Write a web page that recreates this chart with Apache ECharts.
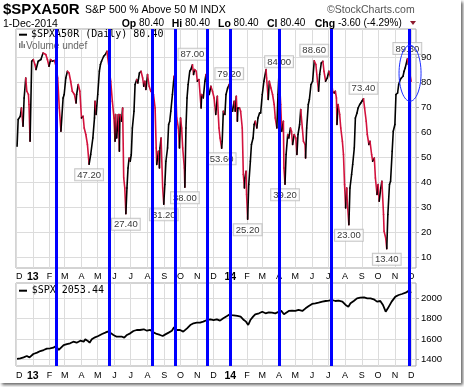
<!DOCTYPE html>
<html><head><meta charset="utf-8">
<script src="https://cdn.jsdelivr.net/npm/echarts@6/dist/echarts.min.js"></script>
<style>html,body{margin:0;padding:0;background:#fff}#c{width:464px;height:387px}</style>
</head><body><div id="c"></div>
<script>
// ---------- DATA ----------
const breadthDates = [
'2012-12-03','2012-12-05','2012-12-09','2012-12-11','2012-12-14','2012-12-16','2012-12-19','2012-12-21','2012-12-24','2012-12-25','2012-12-27','2012-12-30',
'2013-01-02','2013-01-05','2013-01-07','2013-01-11','2013-01-16','2013-01-20','2013-01-25','2013-01-28','2013-01-31',
'2013-02-03','2013-02-06','2013-02-10','2013-02-13','2013-02-16','2013-02-19','2013-02-22','2013-02-26','2013-02-28',
'2013-03-03','2013-03-06','2013-03-09','2013-03-12','2013-03-15','2013-03-19','2013-03-22','2013-03-23','2013-03-26','2013-03-29',
'2013-04-01','2013-04-04','2013-04-06','2013-04-09','2013-04-12','2013-04-15','2013-04-18','2013-04-22','2013-04-25','2013-04-26','2013-04-28',
'2013-05-01','2013-05-04','2013-05-06','2013-05-08','2013-05-12','2013-05-15','2013-05-18','2013-05-22','2013-05-25','2013-05-28','2013-05-31',
'2013-06-02','2013-06-03','2013-06-05','2013-06-08','2013-06-10','2013-06-11','2013-06-14','2013-06-16','2013-06-18','2013-06-20','2013-06-22','2013-06-24','2013-06-26','2013-06-28','2013-06-30',
'2013-07-02','2013-07-04','2013-07-07','2013-07-09','2013-07-12','2013-07-14','2013-07-17','2013-07-20','2013-07-23','2013-07-25','2013-07-27','2013-07-29',
'2013-08-01','2013-08-04','2013-08-07','2013-08-12','2013-08-15','2013-08-17','2013-08-18','2013-08-21','2013-08-23','2013-08-24','2013-08-26','2013-08-29','2013-08-31',
'2013-09-02','2013-09-04','2013-09-07','2013-09-09','2013-09-11','2013-09-13','2013-09-16','2013-09-19','2013-09-22','2013-09-24','2013-09-27','2013-09-29',
'2013-10-01','2013-10-03','2013-10-05','2013-10-08','2013-10-09','2013-10-11','2013-10-13','2013-10-15','2013-10-18','2013-10-20','2013-10-23','2013-10-25','2013-10-27','2013-10-30',
'2013-11-01','2013-11-04','2013-11-08','2013-11-09','2013-11-12','2013-11-15','2013-11-17','2013-11-23','2013-11-26','2013-11-29',
'2013-12-02','2013-12-05','2013-12-08','2013-12-11','2013-12-13','2013-12-16','2013-12-17','2013-12-19','2013-12-22','2013-12-24','2013-12-27','2013-12-30',
'2014-01-02','2014-01-05','2014-01-08','2014-01-10','2014-01-12','2014-01-14','2014-01-15','2014-01-18','2014-01-20','2014-01-23','2014-01-25','2014-01-27','2014-01-28','2014-01-30','2014-01-31',
'2014-02-02','2014-02-04','2014-02-07','2014-02-09','2014-02-12','2014-02-14','2014-02-16','2014-02-19','2014-02-21','2014-02-24','2014-02-26',
'2014-03-01','2014-03-04','2014-03-08','2014-03-09','2014-03-12','2014-03-14','2014-03-17','2014-03-20','2014-03-23','2014-03-25','2014-03-28','2014-03-30',
'2014-04-01','2014-04-04','2014-04-06','2014-04-09','2014-04-10','2014-04-12','2014-04-14','2014-04-17','2014-04-19','2014-04-22','2014-04-24','2014-04-26','2014-04-29',
'2014-05-02','2014-05-04','2014-05-06','2014-05-09','2014-05-11','2014-05-14','2014-05-16','2014-05-19','2014-05-20','2014-05-22','2014-05-25','2014-05-27','2014-05-30',
'2014-06-02','2014-06-05','2014-06-08','2014-06-11','2014-06-13','2014-06-15','2014-06-18','2014-06-21','2014-06-23','2014-06-26','2014-06-29',
'2014-07-02','2014-07-07','2014-07-09','2014-07-12','2014-07-14','2014-07-16','2014-07-17','2014-07-19','2014-07-22','2014-07-24','2014-07-27','2014-07-29','2014-07-31',
'2014-08-02','2014-08-04','2014-08-05','2014-08-08','2014-08-10','2014-08-13','2014-08-15','2014-08-18','2014-08-20','2014-08-23','2014-08-25','2014-08-28','2014-08-30',
'2014-09-01','2014-09-04','2014-09-06','2014-09-09','2014-09-11','2014-09-14','2014-09-16','2014-09-19','2014-09-21','2014-09-24','2014-09-26','2014-09-29',
'2014-10-01','2014-10-03','2014-10-06','2014-10-08','2014-10-11','2014-10-12','2014-10-15','2014-10-17','2014-10-19','2014-10-22','2014-10-24','2014-10-27','2014-10-29',
'2014-11-01','2014-11-03','2014-11-06','2014-11-08','2014-11-11','2014-11-13','2014-11-16','2014-11-18','2014-11-20','2014-11-23','2014-11-24','2014-11-26','2014-11-27','2014-11-28',
'2014-12-01'];
const breadthValues = [
54.4,65.1,66.4,69.7,62.4,73.7,81.7,76.4,75.1,71.1,56.4,88.4,
89.1,87.1,85.1,88.4,89.1,91.7,91.1,89.1,86.4,
89.1,88.4,88.7,86.4,81.7,69.7,60.4,73.7,75.1,
81.7,84.4,83.7,80.4,76.4,75.1,71.7,75.1,79.1,76.4,
65.7,66.4,61.7,59.1,55.1,47.2,51.1,57.7,65.7,72.4,67.1,
75.1,84.4,87.1,88.4,90.4,91.1,92.4,85.7,80.4,72.4,65.7,
56.4,67.1,57.7,67.1,52.4,67.1,64.4,69.7,41.7,37.7,27.4,37.7,45.7,49.7,48.4,
51.1,61.7,68.4,79.1,81.1,79.7,83.7,84.4,81.7,78.4,80.4,77.1,
83.1,78.4,76.4,75.1,69.7,53.7,47.1,52.4,45.7,53.7,57.7,37.7,31.2,
39.1,48.4,53.7,63.1,64.4,68.4,75.1,82.4,77.7,65.7,61.7,53.7,
65.7,61.7,53.7,45.7,38.0,61.7,73.7,79.1,84.4,85.1,87.0,83.1,85.1,84.4,
80.4,81.1,69.7,75.1,73.7,80.4,83.1,75.1,78.4,76.4,
73.7,67.1,74.4,61.7,57.7,53.6,56.4,68.4,67.1,75.1,77.7,79.2,
71.1,68.4,72.4,68.4,74.4,64.4,69.7,69.7,68.4,61.7,43.1,37.7,41.7,44.4,35.1,
25.2,39.1,48.4,55.1,57.7,63.1,64.4,61.7,65.7,67.7,67.7,
75.1,80.4,85.1,81.7,73.1,80.4,77.7,75.1,71.1,65.7,61.7,75.1,
84.0,71.1,60.4,64.4,45.7,39.2,51.1,59.1,57.7,61.7,60.4,55.1,59.1,
57.7,51.1,59.1,63.1,69.1,61.7,56.4,55.1,49.7,61.7,71.1,73.1,79.1,
80.4,88.6,87.1,80.4,76.4,83.1,87.7,88.4,84.4,80.4,81.7,
84.4,80.4,76.4,75.7,76.4,73.7,63.1,71.1,67.1,61.7,56.4,51.1,39.1,
29.7,37.7,32.4,23.0,37.7,43.1,47.1,53.7,65.7,67.7,69.7,71.1,71.7,
72.4,73.4,69.7,64.4,59.1,55.1,56.4,51.1,48.4,49.7,41.7,35.1,
39.1,32.4,37.7,40.4,27.1,20.4,17.7,13.4,27.1,39.1,40.4,52.4,60.4,
63.1,75.1,75.7,79.1,81.1,81.7,82.4,84.4,85.7,88.4,89.3,87.1,88.4,84.0,
80.4];

const spxDates = [
'2012-12-03','2012-12-09','2012-12-15','2012-12-21','2012-12-26','2012-12-29',
'2013-01-02','2013-01-09','2013-01-15','2013-01-21','2013-01-27','2013-02-02','2013-02-08','2013-02-13','2013-02-18','2013-02-21','2013-02-27',
'2013-03-05','2013-03-11','2013-03-17','2013-03-23','2013-03-30','2013-04-05','2013-04-08','2013-04-12','2013-04-16','2013-04-20','2013-04-26',
'2013-05-02','2013-05-09','2013-05-15','2013-05-19','2013-05-24','2013-05-30','2013-06-05','2013-06-08','2013-06-15','2013-06-19','2013-06-24','2013-06-30',
'2013-07-06','2013-07-12','2013-07-18','2013-07-25','2013-07-31','2013-08-06','2013-08-12','2013-08-18','2013-08-24','2013-08-29',
'2013-09-03','2013-09-09','2013-09-15','2013-09-19','2013-09-24','2013-09-30','2013-10-06','2013-10-13','2013-10-19','2013-10-25','2013-10-31',
'2013-11-06','2013-11-12','2013-11-19','2013-11-25','2013-12-01','2013-12-07','2013-12-13','2013-12-19','2013-12-26','2013-12-31',
'2014-01-04','2014-01-14','2014-01-20','2014-01-26','2014-01-30','2014-02-03','2014-02-07','2014-02-12','2014-02-16','2014-02-23',
'2014-03-01','2014-03-07','2014-03-13','2014-03-19','2014-03-25','2014-04-01','2014-04-05','2014-04-10','2014-04-13','2014-04-19','2014-04-25',
'2014-05-01','2014-05-07','2014-05-14','2014-05-20','2014-05-26','2014-06-01','2014-06-07','2014-06-13','2014-06-20','2014-06-26',
'2014-07-02','2014-07-08','2014-07-14','2014-07-20','2014-07-27','2014-08-02','2014-08-07','2014-08-11','2014-08-17','2014-08-23','2014-08-29',
'2014-09-05','2014-09-11','2014-09-17','2014-09-23','2014-09-29','2014-10-05','2014-10-10','2014-10-15','2014-10-19','2014-10-26',
'2014-11-02','2014-11-08','2014-11-14','2014-11-21','2014-11-27','2014-12-01'];
const spxValues = [
1405,1409,1419,1432,1419,1402,
1452,1465,1481,1491,1504,1508,1514,1531,1492,1508,1540,
1550,1557,1573,1563,1583,1573,1596,1583,1563,1596,1616,
1629,1649,1662,1672,1662,1639,1622,1639,1622,1613,1639,1655,
1678,1688,1688,1695,1681,1688,1665,1649,1639,1629,
1645,1662,1681,1714,1688,1688,1672,1704,1737,1754,1760,
1760,1770,1786,1793,1786,1793,1780,1803,1826,1842,
1835,1826,1819,1786,1770,1737,1786,1819,1842,1852,
1868,1852,1862,1858,1852,1868,1878,1842,1858,1875,1878,
1875,1885,1875,1901,1924,1944,1950,1957,1967,1973,
1976,1983,1973,1976,1967,1934,1917,1950,1973,1999,2006,
2009,1999,1999,1990,1967,1973,1934,1868,1901,1967,
2016,2032,2042,2055,2075,2053.44];

// labelled extremes of the breadth line
const annotationDates  = ['2013-04-15','2013-06-22','2013-08-31','2013-10-09','2013-10-23','2013-12-16','2013-12-30','2014-02-02','2014-04-01','2014-04-12','2014-06-05','2014-08-08','2014-09-04','2014-10-17','2014-11-24'];
const annotationValues = [47.2,27.4,31.2,38.0,87.0,53.6,79.2,25.2,84.0,39.2,88.6,23.0,73.4,13.4,89.3];
const annotationSides  = ['below','below','below','below','above','below','above','below','above','below','above','below','above','below','above'];

// blue vertical marker lines
const markerDates = ['2013-02-13','2013-05-22','2013-08-09','2013-09-22','2013-11-20','2013-12-31','2014-04-02','2014-07-06','2014-11-27'];

// x tick labels (month starts)
const monthTickDates = ['2012-12-01','2013-01-01','2013-02-01','2013-03-01','2013-04-01','2013-05-01','2013-06-01','2013-07-01','2013-08-01','2013-09-01','2013-10-01','2013-11-01','2013-12-01',
'2014-01-01','2014-02-01','2014-03-01','2014-04-01','2014-05-01','2014-06-01','2014-07-01','2014-08-01','2014-09-01','2014-10-01','2014-11-01','2014-12-01'];
const monthTickLabels = ['D','13','F','M','A','M','J','J','A','S','O','N','D','14','F','M','A','M','J','J','A','S','O','N','D'];
const breadthTicks = [10,20,30,40,50,60,70,80,90];
const spxTicks = [1400,1600,1800,2000];

// ---------- CHART ----------
const ts = s => { const p = s.split('-').map(Number); return new Date(p[0], p[1]-1, p[2]).getTime(); };
const X_MIN = ts('2012-12-01'), X_MAX = ts('2014-12-10');
const UP = '#000000', DOWN = '#d3123d', GRIDC = '#dcdcdc', FONT = 'Liberation Sans, Arial, sans-serif';

const tickMap = {};
monthTickDates.forEach((d, i) => { tickMap[ts(d)] = monthTickLabels[i]; });
const monthVals = monthTickDates.map(ts);
const xFmt = v => { const l = tickMap[v]; if (l === undefined) return ''; return /\d/.test(l) ? '{y|' + l + '}' : l; };

const segs = [];
for (let i = 1; i < breadthDates.length; i++) {
  const up = breadthValues[i] >= breadthValues[i-1];
  segs.push({ coords: [[ts(breadthDates[i-1]), breadthValues[i-1]], [ts(breadthDates[i]), breadthValues[i]]],
              lineStyle: { color: up ? UP : DOWN } });
}

function xAxisCfg(gi, showLabels, margin) {
  return {
    type: 'value', gridIndex: gi, min: X_MIN, max: X_MAX, scale: true,
    axisLine: { show: false },
    axisTick: { show: false, customValues: monthVals },
    axisLabel: { show: showLabels, customValues: monthVals, formatter: xFmt, margin: margin, fontSize: 9, color: '#000',
                 fontFamily: FONT, alignMinLabel: 'left', hideOverlap: false,
                 rich: { y: { fontWeight: 'bold', fontSize: 10.5, fontFamily: FONT, color: '#000' } } },
    splitLine: { show: showLabels, lineStyle: { color: GRIDC, width: 1 } }
  };
}

const chart = echarts.init(document.getElementById('c'), null, { renderer: 'canvas' });
chart.setOption({
  animation: false,
  backgroundColor: 'transparent',
  grid: [
    { left: 16, top: 29, width: 400, height: 239, show: true, borderColor: '#a8a8a8', borderWidth: 1, backgroundColor: '#fff' },
    { left: 16, top: 283, width: 400, height: 83, show: true, borderColor: '#a8a8a8', borderWidth: 1, backgroundColor: '#fff' },
    { left: 16, top: 29, width: 400, height: 337, show: false }
  ],
  xAxis: [ xAxisCfg(0, true, 4), xAxisCfg(1, true, 5), Object.assign(xAxisCfg(2, false, 3), { show: false }) ],
  yAxis: [
    { type: 'value', gridIndex: 0, position: 'right', min: 5.7, max: 101.3,
      axisLine: { show: false },
      axisTick: { show: true, length: 3, customValues: breadthTicks, lineStyle: { color: '#a8a8a8' } },
      axisLabel: { customValues: breadthTicks, margin: 5, fontSize: 9.5, color: '#000', fontFamily: FONT, formatter: v => String(v) },
      splitLine: { show: true, lineStyle: { color: GRIDC } } },
    { type: 'value', gridIndex: 1, position: 'right', min: 1334, max: 2150,
      axisLine: { show: false },
      axisTick: { show: true, length: 3, customValues: spxTicks, lineStyle: { color: '#a8a8a8' } },
      axisLabel: { customValues: spxTicks, margin: 5, fontSize: 9.5, color: '#000', fontFamily: FONT, formatter: v => String(v) },
      splitLine: { show: true, lineStyle: { color: GRIDC } } },
    { type: 'value', gridIndex: 2, min: 0, max: 1, show: false }
  ],
  series: [
    { type: 'lines', coordinateSystem: 'cartesian2d', xAxisIndex: 0, yAxisIndex: 0, silent: true, z: 3,
      lineStyle: { width: 1.6, opacity: 1, cap: 'round', join: 'round' }, data: segs },
    { type: 'scatter', xAxisIndex: 0, yAxisIndex: 0, silent: true, z: 4, symbolSize: 0.1,
      itemStyle: { color: 'transparent' },
      data: annotationDates.map((d, i) => ({ value: [ts(d), annotationValues[i]],
        label: { position: annotationSides[i] === 'above' ? 'top' : 'bottom' } })),
      label: { show: true, formatter: p => p.value[1].toFixed(2), distance: 5, fontSize: 9.5, fontFamily: FONT, color: '#000',
               backgroundColor: '#fff', borderColor: '#b8b8b8', borderWidth: 1, padding: [1, 2, 0, 2] } },
    { type: 'line', xAxisIndex: 1, yAxisIndex: 1, silent: true, z: 3, showSymbol: false,
      lineStyle: { color: '#000', width: 1.8 }, data: spxDates.map((d, i) => [ts(d), spxValues[i]]) },
    { type: 'line', xAxisIndex: 2, yAxisIndex: 2, silent: true, z: 10, showSymbol: false,
      lineStyle: { opacity: 0 }, data: [[X_MIN, 0], [X_MAX, 0]],
      markLine: { silent: true, symbol: ['none', 'none'], label: { show: false }, animation: false,
        lineStyle: { color: '#0000ff', width: 3, type: 'solid', opacity: 1 },
        data: markerDates.map(d => ({ xAxis: ts(d) })) } }
  ],
  graphic: [
    { id: 'frame', type: 'rect', z: -10, shape: { x: 0, y: 0, width: 461, height: 383 },
      style: { fill: '#fff', shadowBlur: 3, shadowOffsetX: 2, shadowOffsetY: 2, shadowColor: 'rgba(0,0,0,0.6)' } },
    { id: 't1', type: 'text', z: 1, x: 3, y: 10, style: { text: '$SPXA50R', font: 'bold 15px ' + FONT, fill: '#000', verticalAlign: 'middle' } },
    { id: 't2', type: 'text', z: 1, x: 85, y: 10.5, style: { text: 'S&P 500 % Above 50 M INDX', font: '10.5px ' + FONT, fill: '#000', verticalAlign: 'middle' } },
    { id: 't3', type: 'text', z: 1, x: 3, y: 23.7, style: { text: '1-Dec-2014', font: '10.5px ' + FONT, fill: '#000', verticalAlign: 'middle' } },
    { id: 'op', type: 'text', z: 1, x: 121.7, y: 23.7, style: { text: '{b|Op} 80.40', font: '10px ' + FONT, fill: '#000', verticalAlign: 'middle', rich: { b: { font: 'bold 10.5px ' + FONT } } } },
    { id: 'hi', type: 'text', z: 1, x: 171.7, y: 23.7, style: { text: '{b|Hi} 80.40', font: '10px ' + FONT, fill: '#000', verticalAlign: 'middle', rich: { b: { font: 'bold 10.5px ' + FONT } } } },
    { id: 'lo', type: 'text', z: 1, x: 218, y: 23.7, style: { text: '{b|Lo} 80.40', font: '10px ' + FONT, fill: '#000', verticalAlign: 'middle', rich: { b: { font: 'bold 10.5px ' + FONT } } } },
    { id: 'cl', type: 'text', z: 1, x: 267, y: 23.7, style: { text: '{b|Cl} 80.40', font: '10px ' + FONT, fill: '#000', verticalAlign: 'middle', rich: { b: { font: 'bold 10.5px ' + FONT } } } },
    { id: 'chg', type: 'text', z: 1, x: 314.7, y: 23.7, style: { text: '{b|Chg} -3.60 (-4.29%)', font: '10px ' + FONT, fill: '#000', verticalAlign: 'middle', rich: { b: { font: 'bold 10.5px ' + FONT } } } },
    { id: 'tri', type: 'polygon', z: 1, shape: { points: [[410, 21], [416, 21], [413, 25]] }, style: { fill: '#8e1b2e' } },
    { id: 'sc', type: 'text', z: 1, x: 327, y: 10, style: { text: '\u00A9StockCharts.com', font: '10.5px ' + FONT, fill: '#555', verticalAlign: 'middle' } },
    { id: 'lg1l', type: 'line', z: 5, shape: { x1: 19, y1: 34.7, x2: 27, y2: 34.7 }, style: { stroke: '#000', lineWidth: 2 } },
    { id: 'lg1t', type: 'text', z: 5, x: 31, y: 34.7, style: { text: '$SPXA50R (Daily) 80.40', font: '10px DejaVu Sans Mono', fill: '#000', verticalAlign: 'middle' } },
    { id: 'vb1', type: 'rect', z: 5, shape: { x: 19, y: 43, width: 1.4, height: 5 }, style: { fill: '#777' } },
    { id: 'vb2', type: 'rect', z: 5, shape: { x: 21.3, y: 41, width: 1.4, height: 7 }, style: { fill: '#777' } },
    { id: 'vb3', type: 'rect', z: 5, shape: { x: 23.6, y: 44, width: 1.4, height: 4 }, style: { fill: '#777' } },
    { id: 'vt', type: 'text', z: 5, x: 26, y: 46.3, style: { text: 'Volume undef', font: '10px ' + FONT, fill: '#666', verticalAlign: 'middle' } },
    { id: 'lg2l', type: 'line', z: 5, shape: { x1: 19, y1: 290.7, x2: 27, y2: 290.7 }, style: { stroke: '#000', lineWidth: 2 } },
    { id: 'lg2t', type: 'text', z: 5, x: 31.7, y: 290.7, style: { text: '$SPX 2053.44', font: '10px DejaVu Sans Mono', fill: '#000', verticalAlign: 'middle' } }
  ]
});

// highlight ellipse around the latest peak, positioned through the chart's own scale
const ellipseDate = '2014-11-29', ellipseValue = 83.6;
const ec = chart.convertToPixel({ gridIndex: 0 }, [ts(ellipseDate), ellipseValue]);
chart.setOption({ graphic: [{ id: 'ellipse', type: 'ellipse', z: 20, shape: { cx: ec[0], cy: ec[1], rx: 11, ry: 28 },
  style: { fill: 'none', stroke: '#1a2cff', lineWidth: 1 } }] });
</script></body></html>
